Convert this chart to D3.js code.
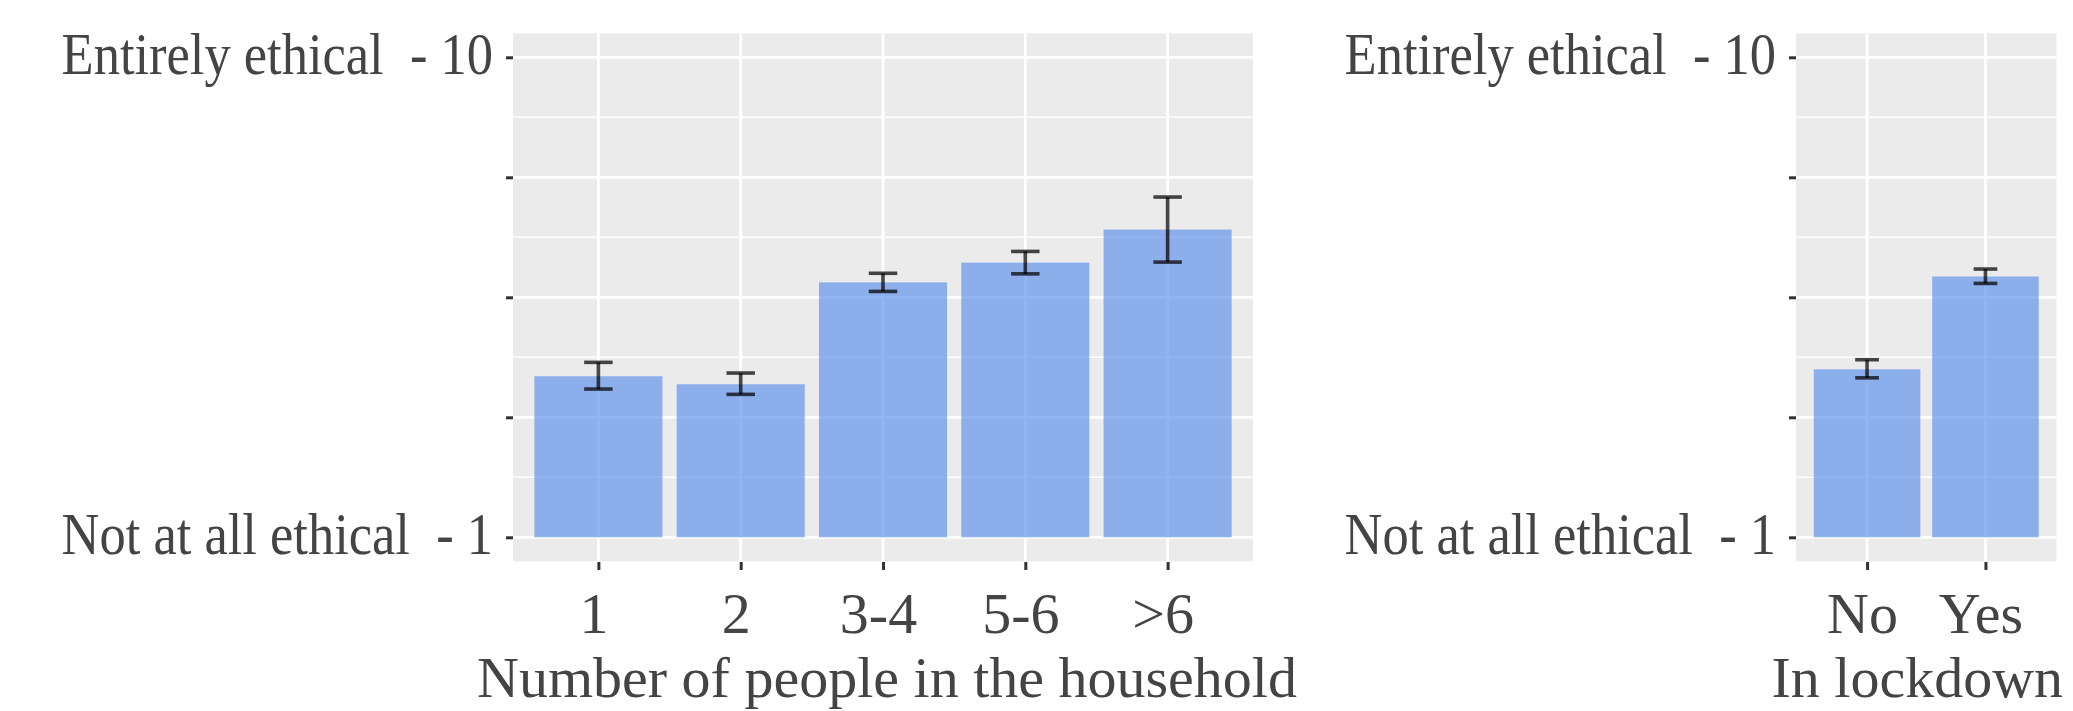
<!DOCTYPE html>
<html>
<head>
<meta charset="utf-8">
<script src="https://cdn.jsdelivr.net/npm/d3@7"></script>
<style>
  html, body { margin: 0; padding: 0; background: #ffffff; }
  svg { display: block; }
  text { font-family: "Liberation Serif", "Times New Roman", serif; fill: #444444; white-space: pre; }
</style>
</head>
<body>
<script>
// ---- data ----
const householdCategories = ["1", "2", "3-4", "5-6", ">6"];
const householdMeans = [4.02, 3.87, 5.78, 6.15, 6.77];
const householdLower = [3.78, 3.68, 5.61, 5.94, 6.16];
const householdUpper = [4.28, 4.08, 5.95, 6.36, 7.38];

const lockdownCategories = ["No", "Yes"];
const lockdownMeans = [4.15, 5.89];
const lockdownLower = [3.99, 5.76];
const lockdownUpper = [4.33, 6.03];

const yTickValues = [1, 3.25, 5.5, 7.75, 10];
const yMinorValues = [2.125, 4.375, 6.625, 8.875];
const yTickLabels = ["Not at all ethical  - 1", "", "", "", "Entirely ethical  - 10"];
const yDomain = [0.55, 10.45];

const householdTitle = "Number of people in the household";
const lockdownTitle = "In lockdown";

// ---- layout ----
const W = 2073, H = 711;
const panelTop = 33.3, panelBottom = 561.3;

const svg = d3.select("body").append("svg")
  .attr("width", W).attr("height", H);
svg.append("rect").attr("width", W).attr("height", H).attr("fill", "#ffffff");

const y = d3.scaleLinear().domain(yDomain).range([panelBottom, panelTop]);

function drawPanel(opts) {
  const { left, right, cats, means, lower, upper, title, titleDx } = opts;
  const x = d3.scalePoint().domain(cats).range([left, right]).padding(0.6);
  const step = x.step();
  const barW = step * 0.9;
  const capW = step * 0.2;

  const g = svg.append("g");

  // panel background
  g.append("rect")
    .attr("x", left).attr("y", panelTop)
    .attr("width", right - left).attr("height", panelBottom - panelTop)
    .attr("fill", "#ebebeb");

  // minor horizontal gridlines
  g.selectAll("line.minor").data(yMinorValues).join("line")
    .attr("class", "minor")
    .attr("x1", left).attr("x2", right)
    .attr("y1", d => y(d)).attr("y2", d => y(d))
    .attr("stroke", "#ffffff").attr("stroke-width", 1.4);

  // major horizontal gridlines
  g.selectAll("line.majh").data(yTickValues).join("line")
    .attr("class", "majh")
    .attr("x1", left).attr("x2", right)
    .attr("y1", d => y(d)).attr("y2", d => y(d))
    .attr("stroke", "#ffffff").attr("stroke-width", 2.8);

  // major vertical gridlines
  g.selectAll("line.majv").data(cats).join("line")
    .attr("class", "majv")
    .attr("x1", d => x(d)).attr("x2", d => x(d))
    .attr("y1", panelTop).attr("y2", panelBottom)
    .attr("stroke", "#ffffff").attr("stroke-width", 2.8);

  // bars
  g.selectAll("rect.bar").data(cats).join("rect")
    .attr("class", "bar")
    .attr("x", d => x(d) - barW / 2)
    .attr("width", barW)
    .attr("y", (d, i) => y(means[i]))
    .attr("height", (d, i) => y(1) - y(means[i]))
    .attr("fill", "cornflowerblue")
    .attr("fill-opacity", 0.7);

  // error bars
  const eb = g.selectAll("g.eb").data(cats).join("g").attr("class", "eb")
    .attr("stroke", "#000000").attr("stroke-opacity", 0.72)
    .attr("stroke-width", 3.6).attr("fill", "none");
  eb.append("line")
    .attr("x1", d => x(d)).attr("x2", d => x(d))
    .attr("y1", (d, i) => y(lower[i])).attr("y2", (d, i) => y(upper[i]));
  eb.append("line")
    .attr("x1", d => x(d) - capW / 2).attr("x2", d => x(d) + capW / 2)
    .attr("y1", (d, i) => y(upper[i])).attr("y2", (d, i) => y(upper[i]));
  eb.append("line")
    .attr("x1", d => x(d) - capW / 2).attr("x2", d => x(d) + capW / 2)
    .attr("y1", (d, i) => y(lower[i])).attr("y2", (d, i) => y(lower[i]));

  // y axis
  const yAxis = d3.axisLeft(y)
    .tickValues(yTickValues)
    .tickSize(7)
    .tickFormat((d, i) => yTickLabels[i]);
  const ya = svg.append("g").attr("transform", `translate(${left},0)`).call(yAxis);
  ya.select(".domain").remove();
  ya.selectAll(".tick line").attr("stroke", "#333333").attr("stroke-width", 3);
  ya.selectAll(".tick text")
    .attr("x", null).attr("dy", null)
    .attr("transform", "translate(-20,16) scale(0.875,1)")
    .attr("text-anchor", "end")
    .style("font-size", "60px")
    .attr("fill", "#444444");

  // x axis
  const xAxis = d3.axisBottom(x).tickSize(8);
  const xa = svg.append("g").attr("transform", `translate(0,${panelBottom + 0.7})`).call(xAxis);
  xa.select(".domain").remove();
  xa.selectAll(".tick line").attr("stroke", "#333333").attr("stroke-width", 3);
  xa.selectAll(".tick text")
    .attr("y", 71).attr("dy", null).attr("dx", -5)
    .attr("text-anchor", "middle")
    .style("font-size", "58px")
    .attr("fill", "#444444");

  // x title
  svg.append("text")
    .attr("x", (left + right) / 2 + titleDx)
    .attr("y", 697)
    .attr("text-anchor", "middle")
    .style("font-size", "58px")
    .text(title);
}

drawPanel({
  left: 513, right: 1253,
  cats: householdCategories, means: householdMeans,
  lower: householdLower, upper: householdUpper,
  title: householdTitle, titleDx: 4
});

drawPanel({
  left: 1796, right: 2056.5,
  cats: lockdownCategories, means: lockdownMeans,
  lower: lockdownLower, upper: lockdownUpper,
  title: lockdownTitle, titleDx: -9
});
</script>
</body>
</html>
